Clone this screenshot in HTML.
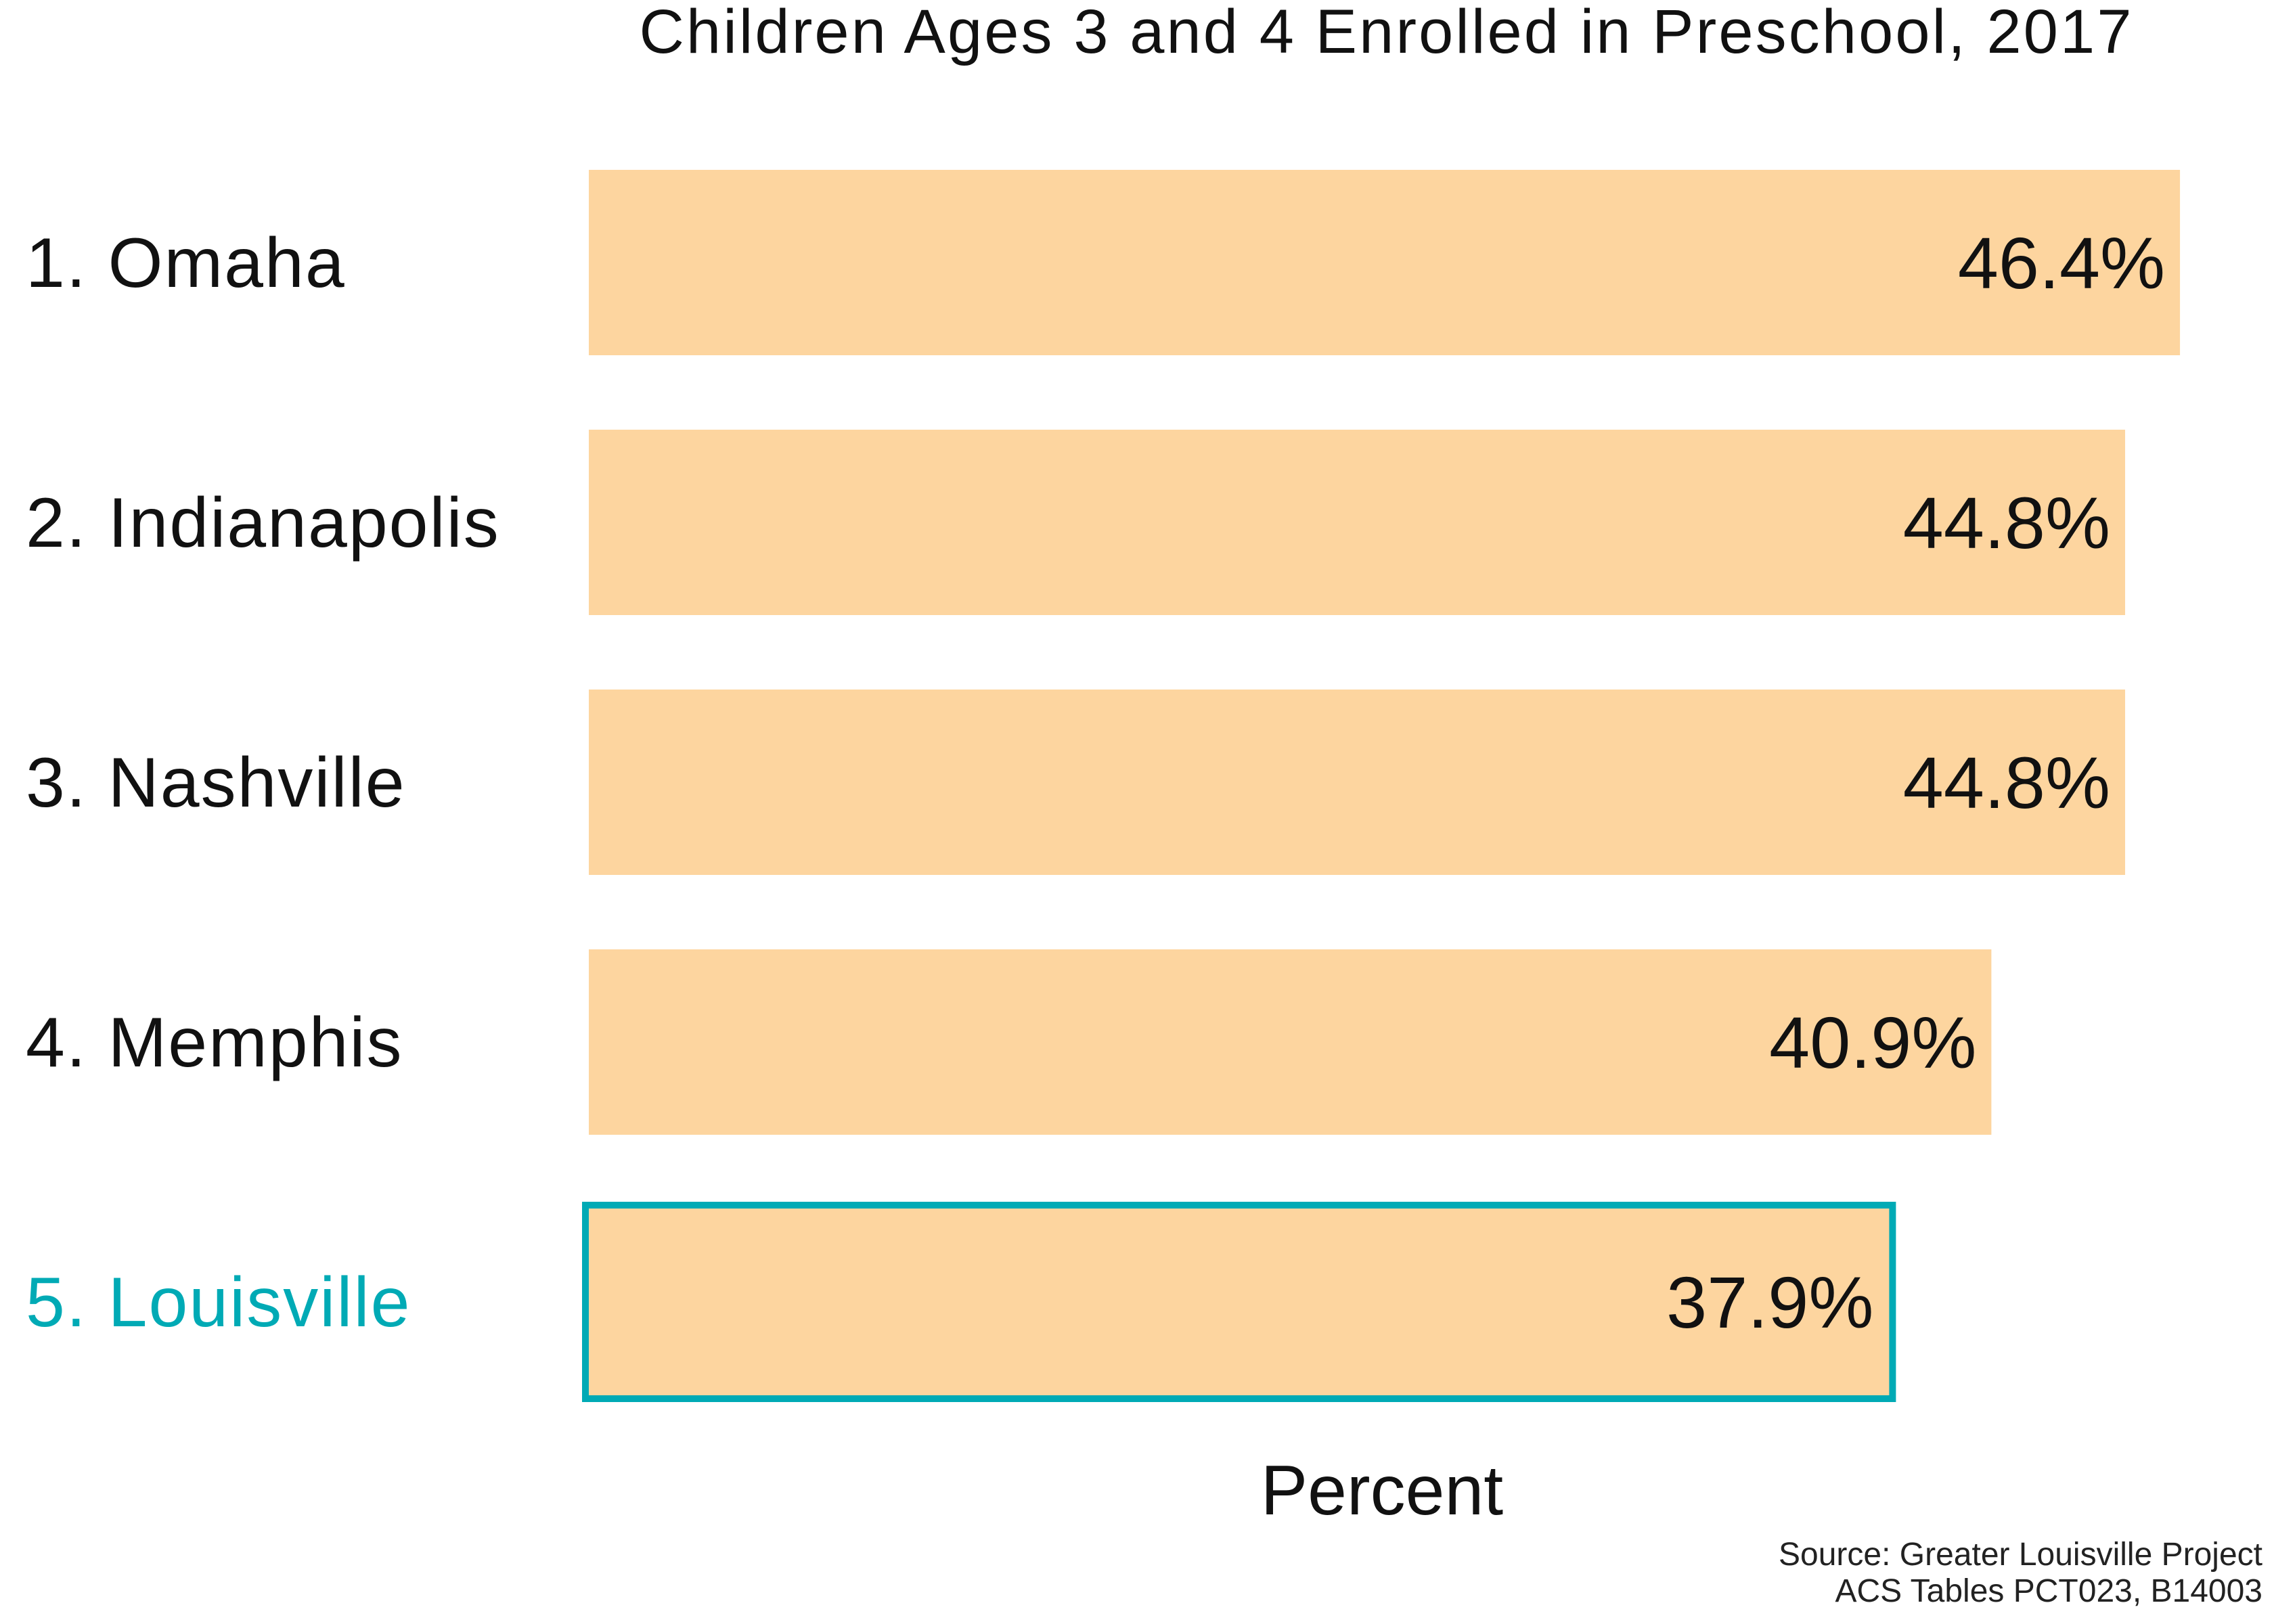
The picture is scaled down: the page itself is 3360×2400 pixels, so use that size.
<!DOCTYPE html>
<html><head><meta charset="utf-8">
<style>
html,body{margin:0;padding:0;background:#fff;}
svg{display:block;font-family:"Liberation Sans",sans-serif;}
</style></head>
<body>
<svg id="chart" width="3360" height="2400" viewBox="0 0 3360 2400">
<text x="2047" y="78" font-size="92" text-anchor="middle" textLength="2205" lengthAdjust="spacing" fill="#111">Children Ages 3 and 4 Enrolled in Preschool, 2017</text>
<g id="bars"></g>
<text x="2042" y="2238" font-size="104" text-anchor="middle" fill="#111">Percent</text>
<text x="3343" y="2313" font-size="48" text-anchor="end" fill="#222">Source: Greater Louisville Project</text>
<text x="3343" y="2367" font-size="48" text-anchor="end" fill="#222">ACS Tables PCT023, B14003</text>
</svg>
<script>
const categories = ["1. Omaha","2. Indianapolis","3. Nashville","4. Memphis","5. Louisville"];
const values = [46.4, 44.8, 44.8, 40.9, 37.9];
const valueLabels = ["46.4%","44.8%","44.8%","40.9%","37.9%"];
const highlight = [false,false,false,false,true];

const x0 = 870, pxPerUnit = 50.67;
function xScale(v){ return x0 + v*pxPerUnit; }
const bandTop = 251, bandStep = 384, barH = 274;
function yScale(i){ return bandTop + i*bandStep; }

const NS = "http://www.w3.org/2000/svg";
const g = document.getElementById("bars");
categories.forEach((c,i)=>{
  const y = yScale(i), w = xScale(values[i]) - x0;
  const r = document.createElementNS(NS,"rect");
  r.setAttribute("x", x0); r.setAttribute("y", y);
  r.setAttribute("width", w); r.setAttribute("height", barH);
  r.setAttribute("fill", "#FDD59F");
  if (highlight[i]) {
    r.setAttribute("stroke", "#00AAB5"); r.setAttribute("stroke-width", "10");
    r.setAttribute("x", x0 - 5); r.setAttribute("width", w + 11);
    r.setAttribute("y", y - 6); r.setAttribute("height", barH + 12);
  }
  
  
  g.appendChild(r);

  const lab = document.createElementNS(NS,"text");
  lab.setAttribute("x", 38); lab.setAttribute("y", y + barH/2 + 36);
  lab.setAttribute("font-size", "104");
  lab.setAttribute("letter-spacing", "2");
  lab.setAttribute("fill", highlight[i] ? "#00AAB5" : "#111");
  lab.textContent = c;
  
  
  g.appendChild(lab);

  const vl = document.createElementNS(NS,"text");
  vl.setAttribute("x", xScale(values[i]) - 22); vl.setAttribute("y", y + barH/2 + 38);
  vl.setAttribute("font-size", "108"); vl.setAttribute("text-anchor", "end");
  vl.setAttribute("fill", "#111");
  vl.textContent = valueLabels[i];
  
  
  g.appendChild(vl);
});
</script>
</body></html>
